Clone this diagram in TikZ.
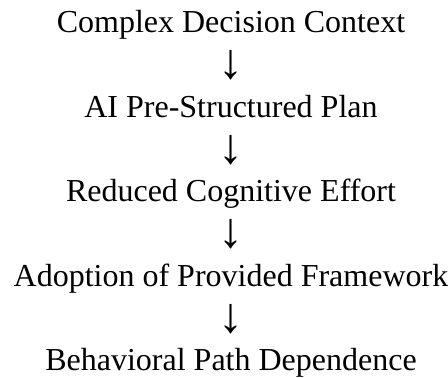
\documentclass[tikz,border=0pt]{standalone}
\usepackage{fontspec}
\setmainfont{Liberation Serif}
\begin{document}
\begin{tikzpicture}[x=1pt,y=1pt,
  stage/.style={anchor=base,inner sep=0pt,font=\fontsize{32}{38}\selectfont},
  flow/.style={anchor=center,inner sep=0pt,font=\fontsize{50}{56}\selectfont}]
\useasboundingbox (0,0) rectangle (448,378);
% stages of the chain, top to bottom
\node[stage] (s1) at (231,345)   {Complex Decision Context};
\node[flow]  (a1) at (231,312.5) {↓};
\node[stage] (s2) at (231,260.5) {AI Pre-Structured Plan};
\node[flow]  (a2) at (231,228)   {↓};
\node[stage] (s3) at (231,176)   {Reduced Cognitive Effort};
\node[flow]  (a3) at (231,143.5) {↓};
\node[stage] (s4) at (231,91.5)  {Adoption of Provided Framework};
\node[flow]  (a4) at (231,59)    {↓};
\node[stage] (s5) at (231,7)     {Behavioral Path Dependence};
\end{tikzpicture}
\end{document}
